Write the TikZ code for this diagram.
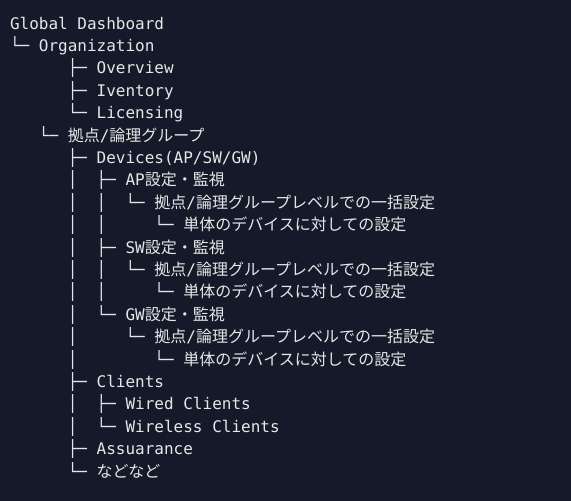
\documentclass[tikz,border=0pt]{standalone}
\usepackage{fontspec}
\newfontfamily\monofnt{DejaVu Sans Mono}
\newfontfamily\cjk{Noto Sans CJK JP}
\definecolor{bgcol}{HTML}{151A2A}
\definecolor{txtcol}{HTML}{E6E6E6}
\newcommand\J[1]{{\cjk #1}}
\begin{document}
\begin{tikzpicture}[x=1pt,y=-1pt,
  line/.style={anchor=base west,inner sep=0pt,outer sep=0pt,text=txtcol,
    font=\monofnt\fontsize{16}{16}\selectfont}]
\fill[bgcol] (0,0) rectangle (571,501);
\useasboundingbox (0,0) rectangle (571,501);
\def\cw{9.63}
\def\lh{22.4}
\node[line] (l0)  at (10+0*\cw, 29+0*\lh)  {Global\ Dashboard};
\node[line] (l1)  at (10+0*\cw, 29+1*\lh)  {└─\ Organization};
\node[line] (l2)  at (10+6*\cw, 29+2*\lh)  {├─\ Overview};
\node[line] (l3)  at (10+6*\cw, 29+3*\lh)  {├─\ Iventory};
\node[line] (l4)  at (10+6*\cw, 29+4*\lh)  {└─\ Licensing};
\node[line] (l5)  at (10+3*\cw, 29+5*\lh)  {└─\ \J{拠点}/\J{論理グループ}};
\node[line] (l6)  at (10+6*\cw, 29+6*\lh)  {├─\ Devices(AP/SW/GW)};
\node[line] (l7)  at (10+6*\cw, 29+7*\lh)  {│\ \ ├─\ AP\J{設定・監視}};
\node[line] (l8)  at (10+6*\cw, 29+8*\lh)  {│\ \ │\ \ └─\ \J{拠点}/\J{論理グループレベルでの一括設定}};
\node[line] (l9)  at (10+6*\cw, 29+9*\lh)  {│\ \ │\ \ \ \ \ └─\ \J{単体のデバイスに対しての設定}};
\node[line] (l10) at (10+6*\cw, 29+10*\lh) {│\ \ ├─\ SW\J{設定・監視}};
\node[line] (l11) at (10+6*\cw, 29+11*\lh) {│\ \ │\ \ └─\ \J{拠点}/\J{論理グループレベルでの一括設定}};
\node[line] (l12) at (10+6*\cw, 29+12*\lh) {│\ \ │\ \ \ \ \ └─\ \J{単体のデバイスに対しての設定}};
\node[line] (l13) at (10+6*\cw, 29+13*\lh) {│\ \ └─\ GW\J{設定・監視}};
\node[line] (l14) at (10+6*\cw, 29+14*\lh) {│\ \ \ \ \ └─\ \J{拠点}/\J{論理グループレベルでの一括設定}};
\node[line] (l15) at (10+6*\cw, 29+15*\lh) {│\ \ \ \ \ \ \ \ └─\ \J{単体のデバイスに対しての設定}};
\node[line] (l16) at (10+6*\cw, 29+16*\lh) {├─\ Clients};
\node[line] (l17) at (10+6*\cw, 29+17*\lh) {│\ \ ├─\ Wired\ Clients};
\node[line] (l18) at (10+6*\cw, 29+18*\lh) {│\ \ └─\ Wireless\ Clients};
\node[line] (l19) at (10+6*\cw, 29+19*\lh) {├─\ Assuarance};
\node[line] (l20) at (10+6*\cw, 29+20*\lh) {└─\ \J{などなど}};
\end{tikzpicture}
\end{document}
